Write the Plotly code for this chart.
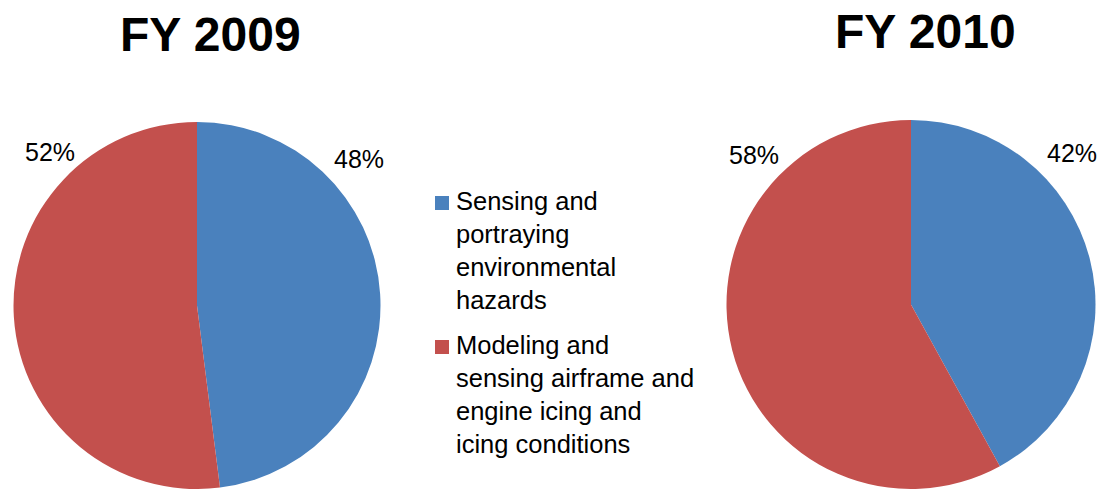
import plotly.graph_objects as go

# Funding share by research area
categories = [
    "Sensing and<br>portraying<br>environmental<br>hazards",
    "Modeling and<br>sensing airframe and<br>engine icing and<br>icing conditions",
]
fy2009 = [48, 52]
fy2010 = [42, 58]
years = ["FY 2009", "FY 2010"]
colors = ["#4A81BD", "#C3504D"]

W, H = 1100, 489
font_family = "Liberation Sans, Arial, Helvetica, sans-serif"

fig = go.Figure()

fig.add_trace(go.Pie(
    labels=categories, values=fy2009, sort=False, direction="clockwise",
    rotation=0, marker=dict(colors=colors, line=dict(width=0)),
    textinfo="none", hoverinfo="label+percent",
    domain=dict(x=[12 / W, 382 / W], y=[0, 1 - 122 / H]),
    showlegend=False,
))
fig.add_trace(go.Pie(
    labels=categories, values=fy2010, sort=False, direction="clockwise",
    rotation=0, marker=dict(colors=colors, line=dict(width=0)),
    textinfo="none", hoverinfo="label+percent",
    domain=dict(x=[726 / W, 1096 / W], y=[0, 1 - 120 / H]),
    showlegend=False,
))

# Pie titles
title_pos = [(211, 34), (925, 31)]
for text, (px, py) in zip(years, title_pos):
    fig.add_annotation(
        text=f"<b>{text}</b>", x=px / W, y=1 - py / H, xref="paper", yref="paper",
        showarrow=False, xanchor="center", yanchor="middle",
        font=dict(size=48, color="black", family=font_family),
    )

# Percentage labels placed around each pie
label_pos = [
    (fy2009[0], 359, 159), (fy2009[1], 50, 152),
    (fy2010[0], 1072, 153), (fy2010[1], 754, 155),
]
for v, px, py in label_pos:
    fig.add_annotation(
        text=f"{v}%", x=px / W, y=1 - py / H, xref="paper", yref="paper",
        showarrow=False, xanchor="center", yanchor="middle",
        font=dict(size=25, color="black", family=font_family),
    )

# Legend: colour swatch plus wrapped category name
legend_rows = [(196, 185), (340, 329)]  # (swatch top, text top) in pixels
for name, color, (sq_top, txt_top) in zip(categories, colors, legend_rows):
    fig.add_shape(
        type="rect", xref="paper", yref="paper",
        x0=435 / W, x1=449 / W, y0=1 - sq_top / H, y1=1 - (sq_top + 14) / H,
        fillcolor=color, line=dict(width=0),
    )
    fig.add_annotation(
        text=name, x=454 / W, y=1 - txt_top / H, xref="paper", yref="paper",
        showarrow=False, xanchor="left", yanchor="top", align="left",
        font=dict(size=25.5, color="black", family=font_family),
    )

fig.update_layout(
    width=W, height=H,
    margin=dict(l=0, r=0, t=0, b=0),
    paper_bgcolor="white", plot_bgcolor="white",
    showlegend=False,
)

fig.write_html("out.html")
